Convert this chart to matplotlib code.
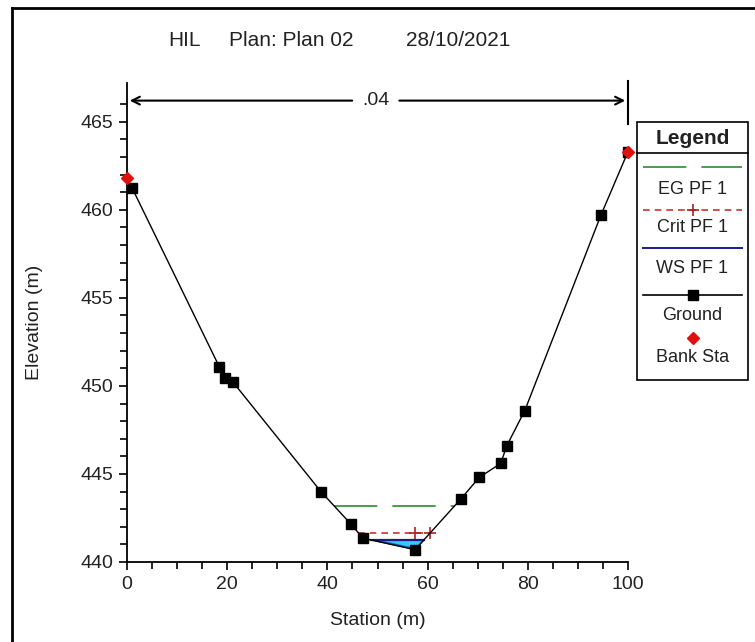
import numpy as np
import matplotlib
matplotlib.use("Agg")
import matplotlib.pyplot as plt
from matplotlib.lines import Line2D
from matplotlib.patches import Rectangle

plt.rcParams['font.family'] = ['Liberation Sans', 'DejaVu Sans']

# ---- data ----
ground_sta = [0.0, 1.0, 18.4, 19.6, 21.2, 38.7, 44.7, 47.1, 57.5, 66.7, 70.3, 74.6, 75.8, 79.4, 94.6, 100.0]
ground_elev = [461.8, 461.25, 451.1, 450.45, 450.2, 444.0, 442.15, 441.35, 440.7, 443.6, 444.8, 445.6, 446.6, 448.6, 459.7, 463.3]
bank_sta = [0.0, 100.0]
bank_elev = [461.8, 463.3]
ws_elev = 441.25
crit_elev = 441.65
eg_elev = 443.2
mann_n = ".04"
title_parts = ["HIL", "Plan: Plan 02", "28/10/2021"]

W, H = 755, 642
fig = plt.figure(figsize=(W/100, H/100), dpi=100)
ax = fig.add_axes([127/W, 1-562/H, (628-127)/W, (562-83)/H])

gs = np.array(ground_sta); ge = np.array(ground_elev)

def crossings(level):
    xs = []
    for i in range(len(gs)-1):
        a, b = ge[i]-level, ge[i+1]-level
        if a*b < 0:
            xs.append(gs[i] + (gs[i+1]-gs[i]) * a/(a-b))
    return xs

TXT = '#222222'

# water fill
wx = crossings(ws_elev)
xl, xr = wx[0], wx[-1]
xx = np.linspace(xl, xr, 300)
gy = np.interp(xx, gs, ge)
ax.fill_between(xx, gy, ws_elev, where=gy <= ws_elev, color='#38c8f5', lw=0, zorder=1)
ax.fill_between(xx, gy, np.minimum(ws_elev, gy + 0.12), where=gy <= ws_elev, color='#1060c0', lw=0, zorder=1.5)
ax.plot([xl, xr], [ws_elev, ws_elev], color='#1a1a8c', lw=1.6, zorder=3)

# crit
cx = crossings(crit_elev)
ax.plot([cx[0], cx[-1]], [crit_elev, crit_elev], color='#d03030', lw=1.2, dashes=(4, 3), zorder=3)
ax.plot([gs[8], cx[-1]], [crit_elev, crit_elev], ls='none', marker='+', ms=8, mew=1.2, color='#b02020', zorder=3)

# EG
ex = crossings(eg_elev)
ax.plot([ex[0], ex[-1]], [eg_elev, eg_elev], color='#2e8b2e', lw=1.2, dashes=(26, 9), zorder=3)

# ground
ax.plot(gs, ge, color='black', lw=1, zorder=4)
ax.plot(gs[1:], ge[1:], ls='none', marker='s', ms=7, color='black', zorder=5)
ax.plot(bank_sta, bank_elev, ls='none', marker='D', ms=6.5, color='#e01010', zorder=6, clip_on=False)

ax.set_xlim(0, 100)
ax.set_ylim(440, 467.2)
for s in ['top', 'right']:
    ax.spines[s].set_visible(False)
ax.spines['left'].set_linewidth(1.3)
ax.spines['bottom'].set_linewidth(1.3)
ax.set_xticks(np.arange(0, 101, 20))
ax.set_xticks(np.arange(0, 101, 5), minor=True)
ax.set_yticks(np.arange(440, 466, 5))
ax.set_yticks(np.arange(440, 467, 1), minor=True)
ax.tick_params(which='both', direction='out', width=1.2, labelsize=14, colors='black', labelcolor=TXT)
ax.tick_params(which='major', length=6, pad=4)
ax.tick_params(which='minor', length=5)
ax.set_xlabel('Station (m)', fontsize=14, color=TXT)
ax.set_ylabel('Elevation (m)', fontsize=14, color=TXT)
ax.xaxis.set_label_coords(0.5, -0.105)
ax.yaxis.set_label_coords(-0.168, 0.5)

# manning n annotation
ya = 466.2
ax.annotate('', xy=(0, ya), xytext=(45.5, ya), arrowprops=dict(arrowstyle='->', lw=1.5, color='black', mutation_scale=14), annotation_clip=False)
ax.annotate('', xy=(100, ya), xytext=(53.8, ya), arrowprops=dict(arrowstyle='->', lw=1.5, color='black', mutation_scale=14), annotation_clip=False)
ax.plot([100, 100], [464.9, 467.3], color='black', lw=1.5, clip_on=False)
ax.text(49.7, ya, mann_n, ha='center', va='center', fontsize=14, color=TXT)

# title (three parts)
for txt, cxp in zip(title_parts, [184, 291, 458]):
    fig.text(cxp/W, 1-40/H, txt, ha='center', va='center', fontsize=15, color=TXT)

# figure border (left and top)
fig.add_artist(Line2D([12/W, 12/W], [0, 1-8/H], color='black', lw=2, transform=fig.transFigure))
fig.add_artist(Line2D([12/W, 1], [1-8/H, 1-8/H], color='black', lw=2, transform=fig.transFigure))

# legend box
lx0, lx1, ly0, ly1 = 637, 748, 122, 380
def fx(p): return p/W
def fy(p): return 1-p/H
mx = fx((lx0+lx1)/2)
fig.add_artist(Rectangle((fx(lx0), fy(ly1)), fx(lx1)-fx(lx0), fy(ly0)-fy(ly1), transform=fig.transFigure, fill=True, facecolor='white', edgecolor='black', lw=1.2, zorder=10))
fig.add_artist(Line2D([fx(lx0), fx(lx1)], [fy(153), fy(153)], color='black', lw=1.2, transform=fig.transFigure, zorder=11))
fig.text(mx, fy(138), 'Legend', ha='center', va='center', fontsize=15, fontweight='bold', color=TXT, zorder=12)
sx0, sx1 = fx(lx0+6), fx(lx1-6)
fig.add_artist(Line2D([sx0, sx1], [fy(167)]*2, color='#2e8b2e', lw=1.2, dashes=(26, 9), transform=fig.transFigure, zorder=11))
fig.text(mx, fy(189), 'EG PF 1', ha='center', va='center', fontsize=13, color=TXT, zorder=12)
fig.add_artist(Line2D([sx0, sx1], [fy(210)]*2, color='#d03030', lw=1.2, dashes=(4, 3), transform=fig.transFigure, zorder=11))
fig.add_artist(Line2D([mx], [fy(210)], ls='none', marker='+', ms=8, mew=1.2, color='#b02020', transform=fig.transFigure, zorder=11))
fig.text(mx, fy(228), 'Crit PF 1', ha='center', va='center', fontsize=13, color=TXT, zorder=12)
fig.add_artist(Line2D([sx0, sx1], [fy(248)]*2, color='#1a1a8c', lw=1.4, transform=fig.transFigure, zorder=11))
fig.text(mx, fy(268), 'WS PF 1', ha='center', va='center', fontsize=13, color=TXT, zorder=12)
fig.add_artist(Line2D([sx0, sx1], [fy(295)]*2, color='black', lw=1.2, transform=fig.transFigure, zorder=11))
fig.add_artist(Line2D([mx], [fy(295)], ls='none', marker='s', ms=7, color='black', transform=fig.transFigure, zorder=12))
fig.text(mx, fy(315), 'Ground', ha='center', va='center', fontsize=13, color=TXT, zorder=12)
fig.add_artist(Line2D([mx], [fy(338)], ls='none', marker='D', ms=6, color='#e01010', transform=fig.transFigure, zorder=12))
fig.text(mx, fy(358), 'Bank Sta', ha='center', va='center', fontsize=13, color=TXT, zorder=12)

fig.savefig('out.png', dpi=100)
